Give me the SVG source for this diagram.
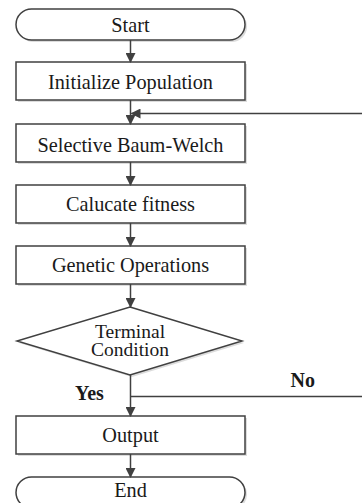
<svg xmlns="http://www.w3.org/2000/svg" width="362" height="503" viewBox="0 0 362 503">
<defs>
<style>
.box{fill:#fff;stroke:#404040;stroke-width:1.5}
.sh{fill:#dcdcdc}
.ln{fill:none;stroke:#404040;stroke-width:1.5}
</style>
<marker id="ah" markerWidth="10" markerHeight="10" refX="9" refY="5" orient="auto" markerUnits="userSpaceOnUse">
<path d="M0,0 L10,5 L0,10 Z" fill="#404040"/>
</marker>
</defs>
<rect width="362" height="503" fill="#fff"/>
<g id="start">
<rect class="sh" x="18" y="11" width="229" height="31" rx="15.5"/>
<rect class="box" x="16" y="9" width="229" height="31" rx="15.5"/>
<text x="130.5" y="31.5" font-family="Liberation Serif" font-size="20.3" fill="#1a1a1a" text-anchor="middle">Start</text>
</g>
<g id="init">
<rect class="sh" x="18" y="64" width="229" height="38"/>
<rect class="box" x="16" y="62" width="229" height="38"/>
<text x="130.5" y="89" font-family="Liberation Serif" font-size="20.3" fill="#1a1a1a" text-anchor="middle">Initialize Population</text>
</g>
<g id="sbw">
<rect class="sh" x="18" y="126" width="229" height="38"/>
<rect class="box" x="16" y="124" width="229" height="38"/>
<text x="130.5" y="151.5" font-family="Liberation Serif" font-size="20.3" fill="#1a1a1a" text-anchor="middle">Selective Baum-Welch</text>
</g>
<g id="fit">
<rect class="sh" x="18" y="187" width="229" height="38"/>
<rect class="box" x="16" y="185" width="229" height="38"/>
<text x="130.5" y="210.5" font-family="Liberation Serif" font-size="20.3" fill="#1a1a1a" text-anchor="middle">Calucate fitness</text>
</g>
<g id="gen">
<rect class="sh" x="18" y="248" width="229" height="38"/>
<rect class="box" x="16" y="246" width="229" height="38"/>
<text x="130.5" y="271.5" font-family="Liberation Serif" font-size="20.3" fill="#1a1a1a" text-anchor="middle">Genetic Operations</text>
</g>
<g id="term">
<polygon class="sh" points="132,309 244,343 132,377 19,343"/>
<polygon class="box" points="130,307 242,341 130,375 17,341"/>
<text x="130" y="338" font-family="Liberation Serif" font-size="19.5" fill="#1a1a1a" text-anchor="middle">Terminal</text>
<text x="130" y="356" font-family="Liberation Serif" font-size="19.5" fill="#1a1a1a" text-anchor="middle">Condition</text>
</g>
<g id="out">
<rect class="sh" x="18" y="418" width="229" height="38"/>
<rect class="box" x="16" y="416" width="229" height="38"/>
<text x="130.5" y="441.5" font-family="Liberation Serif" font-size="20.3" fill="#1a1a1a" text-anchor="middle">Output</text>
</g>
<g id="end">
<rect class="sh" x="18" y="479" width="229" height="31" rx="15.5"/>
<rect class="box" x="16" y="477" width="229" height="31" rx="15.5"/>
<text x="130.5" y="496.5" font-family="Liberation Serif" font-size="20.3" fill="#1a1a1a" text-anchor="middle">End</text>
</g>
<g id="connectors">
<line class="ln" x1="130.5" y1="40" x2="130.5" y2="62" marker-end="url(#ah)"/>
<line class="ln" x1="130.5" y1="100" x2="130.5" y2="124" marker-end="url(#ah)"/>
<line class="ln" x1="362" y1="113.5" x2="131.5" y2="113.5" marker-end="url(#ah)"/>
<line class="ln" x1="130.5" y1="162" x2="130.5" y2="185" marker-end="url(#ah)"/>
<line class="ln" x1="130.5" y1="223" x2="130.5" y2="246" marker-end="url(#ah)"/>
<line class="ln" x1="130.5" y1="284" x2="130.5" y2="307" marker-end="url(#ah)"/>
<line class="ln" x1="130.5" y1="375" x2="130.5" y2="416" marker-end="url(#ah)"/>
<line class="ln" x1="130.5" y1="396.5" x2="362" y2="396.5"/>
<line class="ln" x1="130.5" y1="454" x2="130.5" y2="477" marker-end="url(#ah)"/>
<text x="75" y="400" font-family="Liberation Serif" font-size="20" font-weight="bold" fill="#1a1a1a">Yes</text>
<text x="290.5" y="386.5" font-family="Liberation Serif" font-size="20" font-weight="bold" fill="#1a1a1a">No</text>
</g>
</svg>
